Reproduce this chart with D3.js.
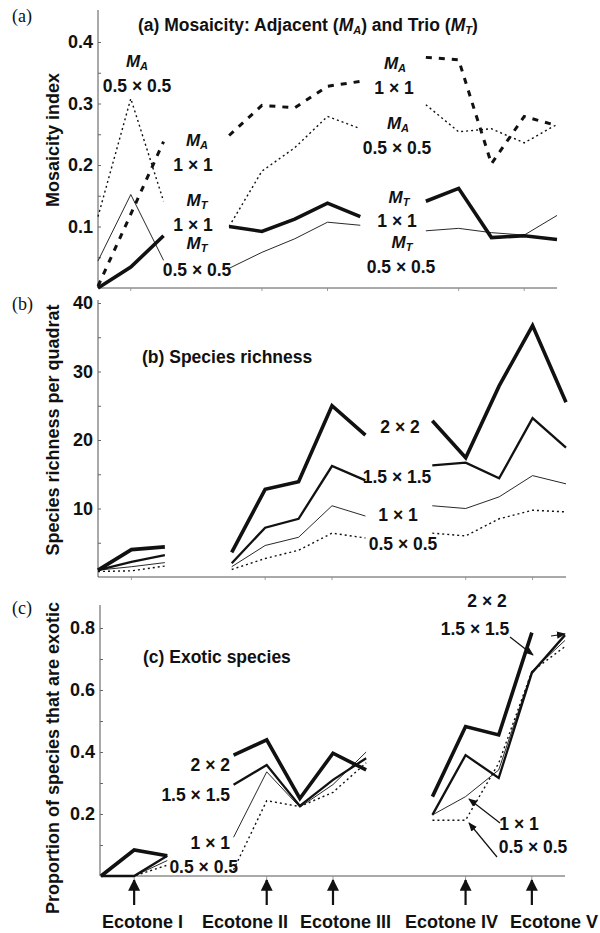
<!DOCTYPE html>
<html>
<head>
<meta charset="utf-8">
<script src="https://cdn.jsdelivr.net/npm/d3@7"></script>
<style>
body { margin: 0; background: #fff; }
svg text { font-family: "Liberation Sans", Arial, Helvetica, sans-serif; font-weight: bold; fill: #111; }
svg text.letter { font-family: "Liberation Serif", "Times New Roman", serif; font-weight: normal; }
</style>
</head>
<body>
<div id="vis"></div>
<script>
'use strict';
var width = 600, height = 933;

// sampling positions along the transect (0..14), null = not sampled
var positions = d3.range(15);

// (a) mosaicity index
var maHalf = [0.116, 0.308, 0.141, null, 0.100, 0.190, 0.228, 0.279, 0.259, null, 0.298, 0.254, 0.259, 0.236, 0.266];
var maOne  = [0.003, 0.120, 0.238, null, 0.248, 0.297, 0.293, 0.328, 0.336, null, 0.375, 0.371, 0.202, 0.279, 0.264];
var mtOne  = [0.000, 0.034, 0.085, null, 0.100, 0.092, 0.112, 0.138, 0.116, null, 0.141, 0.162, 0.082, 0.085, 0.079];
var mtHalf = [0.044, 0.152, 0.045, null, 0.032, 0.058, 0.080, 0.107, 0.102, null, 0.093, 0.097, 0.090, 0.086, 0.118];

// (b) species richness per quadrat
var rich2   = [1.0, 4.0, 4.4, null, 3.6, 12.8, 13.9, 25.0, 20.7, null, 22.8, 17.4, 27.9, 36.7, 25.5];
var rich15  = [1.0, 2.2, 3.2, null, 2.0, 7.2, 8.5, 16.2, 14.1, null, 16.3, 16.7, 14.4, 23.2, 18.9];
var rich1   = [1.0, 1.5, 2.1, null, 1.5, 4.6, 5.8, 10.4, 8.9, null, 10.4, 10.0, 11.7, 14.8, 13.6];
var rich05  = [0.8, 0.9, 1.6, null, 1.1, 2.7, 3.9, 6.4, 5.7, null, 6.4, 6.0, 8.5, 9.75, 9.5];

// (c) proportion exotic
var exo2   = [0, 0.084, 0.065, null, 0.390, 0.439, 0.250, 0.396, 0.342, null, 0.256, 0.482, 0.455, 0.785, null];
var exo15  = [0, 0, 0.065, null, 0.294, 0.358, 0.226, 0.310, 0.380, null, 0.197, 0.390, 0.316, 0.655, 0.777];
var exo1   = [0, 0, 0.050, null, 0.125, 0.336, 0.222, 0.295, 0.400, null, 0.197, 0.256, 0.342, 0.660, 0.760];
var exo05  = [0, 0, 0.035, null, 0.020, 0.243, 0.224, 0.270, 0.365, null, 0.180, 0.180, 0.364, 0.660, 0.740];

var ticksA = [0.1, 0.2, 0.3, 0.4], minorA = [0.05, 0.15, 0.25, 0.35];
var ticksB = [10, 20, 30, 40],     minorB = [5, 15, 25, 35];
var ticksC = [0.2, 0.4, 0.6, 0.8], minorC = [0.1, 0.3, 0.5, 0.7];

var ecotoneIdx = [1, 5, 7, 11, 13];
var ecotoneNames = ['Ecotone I', 'Ecotone II', 'Ecotone III', 'Ecotone IV', 'Ecotone V'];

var svg = d3.select('#vis').append('svg')
  .attr('width', width).attr('height', height);

var defs = svg.append('defs');
defs.append('marker').attr('id', 'head').attr('viewBox', '0 0 10 10')
  .attr('refX', 9).attr('refY', 5).attr('markerWidth', 9).attr('markerHeight', 9)
  .attr('markerUnits', 'userSpaceOnUse').attr('orient', 'auto')
  .append('path').attr('d', 'M0,1 L10,5 L0,9 Z').attr('fill', '#111');
defs.append('marker').attr('id', 'bighead').attr('viewBox', '0 0 10 10')
  .attr('refX', 9).attr('refY', 5).attr('markerWidth', 12).attr('markerHeight', 12)
  .attr('markerUnits', 'userSpaceOnUse').attr('orient', 'auto')
  .append('path').attr('d', 'M0,0 L10,5 L0,10 Z').attr('fill', '#111');

var styles = {
  thick:  { w: 3.6, dash: null },
  medium: { w: 2.3, dash: null },
  thin:   { w: 0.9, dash: null },
  dotted: { w: 1.4, dash: '2,3' },
  dashed: { w: 3.0, dash: '6,7' }
};

var panels = [
  { letter: '(a)', letterY: 22,
    xr: [98, 557], axisX: 98, base: 288, top: 10, domain: [0, 0.4], range: [288, 42],
    ticks: ticksA, minor: minorA, fmt: d3.format('.1f'),
    ytitle: 'Mosaicity index', ytitleY: 140,
    series: [[maHalf, 'dotted'], [maOne, 'dashed'], [mtHalf, 'thin'], [mtOne, 'thick']] },
  { letter: '(b)', letterY: 310, title: '(b) Species richness', titleX: 142, titleY: 363,
    xr: [98, 566], axisX: 98, base: 577, top: 300, domain: [0, 40], range: [577, 303],
    ticks: ticksB, minor: minorB, fmt: d3.format('d'),
    ytitle: 'Species richness per quadrat', ytitleY: 430,
    series: [[rich05, 'dotted'], [rich1, 'thin'], [rich15, 'medium'], [rich2, 'thick']] },
  { letter: '(c)', letterY: 614, title: '(c) Exotic species', titleX: 143, titleY: 663,
    xr: [101, 565], axisX: 100, base: 876, top: 605, domain: [0, 0.8], range: [876, 628],
    ticks: ticksC, minor: minorC, fmt: d3.format('.1f'),
    ytitle: 'Proportion of species that are exotic', ytitleY: 758,
    series: [[exo05, 'dotted'], [exo1, 'thin'], [exo15, 'medium'], [exo2, 'thick']] }
];

panels.forEach(function(p) {
  var x = d3.scaleLinear().domain([0, 14]).range(p.xr);
  var y = d3.scaleLinear().domain(p.domain).range(p.range);
  p.x = x; p.y = y;
  var g = svg.append('g');

  // left axis line and base line
  g.append('line').attr('x1', p.axisX).attr('x2', p.axisX).attr('y1', p.top).attr('y2', p.base)
    .attr('stroke', '#555').attr('stroke-width', 1);
  g.append('line').attr('x1', p.axisX).attr('x2', p.xr[1]).attr('y1', p.base).attr('y2', p.base)
    .attr('stroke', '#555').attr('stroke-width', 1);
  ecotoneIdx.forEach(function(i) {
    g.append('line').attr('x1', x(i)).attr('x2', x(i)).attr('y1', p.base).attr('y2', p.base + 3)
      .attr('stroke', '#888').attr('stroke-width', 0.8);
  });

  // tick labels
  var ax = g.append('g').attr('transform', 'translate(' + p.axisX + ',0)')
    .call(d3.axisLeft(y).tickValues(p.ticks).tickSize(0).tickPadding(5).tickFormat(p.fmt));
  ax.select('.domain').remove();
  ax.selectAll('text').attr('font-size', 18).style('font-family', null);
  // small inward ticks
  var mt = g.append('g').attr('transform', 'translate(' + p.axisX + ',0)')
    .call(d3.axisLeft(y).tickValues(p.ticks.concat(p.minor)).tickSize(-3).tickFormat(''));
  mt.select('.domain').remove();
  mt.selectAll('line').attr('stroke', '#666');

  // y title
  g.append('text').attr('transform', 'translate(59,' + p.ytitleY + ') rotate(-90)')
    .attr('text-anchor', 'middle').attr('font-size', 18).text(p.ytitle);

  // panel letter
  svg.append('text').attr('class', 'letter').attr('x', 12).attr('y', p.letterY)
    .attr('font-size', 18).text(p.letter);

  // series
  var line = d3.line()
    .defined(function(d) { return d.v != null; })
    .x(function(d) { return x(d.i); })
    .y(function(d) { return y(d.v); });
  p.series.forEach(function(s) {
    var st = styles[s[1]];
    var pts = positions.map(function(i) { return { i: i, v: s[0][i] }; });
    g.append('path').attr('d', line(pts))
      .attr('fill', 'none').attr('stroke', '#111')
      .attr('stroke-width', st.w)
      .attr('stroke-dasharray', st.dash)
      .attr('stroke-linejoin', 'miter');
  });
});

// titles
var ta = svg.append('text').attr('x', 138).attr('y', 31).attr('font-size', 17.5);
ta.append('tspan').text('(a) Mosaicity: Adjacent (');
ta.append('tspan').style('font-style', 'italic').text('M');
ta.append('tspan').style('font-style', 'italic').attr('font-size', 11).attr('dy', 3).text('A');
ta.append('tspan').attr('dy', -3).text(') and Trio (');
ta.append('tspan').style('font-style', 'italic').text('M');
ta.append('tspan').style('font-style', 'italic').attr('font-size', 11).attr('dy', 3).text('T');
ta.append('tspan').attr('dy', -3).text(')');
svg.append('text').attr('x', panels[1].titleX).attr('y', panels[1].titleY).attr('font-size', 17.5).text(panels[1].title);
svg.append('text').attr('x', panels[2].titleX).attr('y', panels[2].titleY).attr('font-size', 17.5).text(panels[2].title);

// series labels
function mLabel(x, y, sub) {
  var t = svg.append('text').attr('x', x).attr('y', y).attr('text-anchor', 'middle')
    .attr('font-size', 17).style('font-style', 'italic');
  t.append('tspan').text('M');
  t.append('tspan').attr('font-size', 11).attr('dy', 3).text(sub);
}
function label(x, y, s, anchor) {
  svg.append('text').attr('x', x).attr('y', y).attr('text-anchor', anchor || 'middle')
    .attr('font-size', 17.5).text(s);
}

var mLabels = [[137, 67, 'A'], [197, 146, 'A'], [197, 206, 'T'], [197, 249, 'T'],
               [395, 69, 'A'], [398, 129, 'A'], [399, 203, 'T'], [402, 248, 'T']];
var sizeLabels = [
  [137, 92, '0.5 × 0.5'], [193, 171, '1 × 1'], [193, 231, '1 × 1'], [197, 276, '0.5 × 0.5'],
  [394, 94, '1 × 1'], [397, 154, '0.5 × 0.5'], [397, 227, '1 × 1'], [401, 273, '0.5 × 0.5'],
  [400, 433, '2 × 2'], [397, 483, '1.5 × 1.5'], [398, 521, '1 × 1'], [403, 550, '0.5 × 0.5'],
  [230, 771, '2 × 2', 'end'], [230, 801, '1.5 × 1.5', 'end'], [230, 849, '1 × 1', 'end'], [238, 873, '0.5 × 0.5', 'end'],
  [487, 607, '2 × 2'], [475, 635, '1.5 × 1.5'], [519, 830, '1 × 1'], [533, 853, '0.5 × 0.5']
];
mLabels.forEach(function(d) { mLabel(d[0], d[1], d[2]); });
sizeLabels.forEach(function(d) { label(d[0], d[1], d[2], d[3]); });

// leader arrows in panel (c)
var leaders = [[[510, 637], [533, 655]], [[500, 823], [469, 799]], [[497, 857], [469, 823]], [[551, 636], [565, 634]]];
leaders.forEach(function(l) {
  svg.append('line').attr('x1', l[0][0]).attr('y1', l[0][1]).attr('x2', l[1][0]).attr('y2', l[1][1])
    .attr('stroke', '#111').attr('stroke-width', 1.2).attr('marker-end', 'url(#head)');
});

// ecotone arrows and names
var xc = panels[2].x;
var ecotoneTextX = [102, 202, 300, 405, 510];
ecotoneIdx.forEach(function(i, k) {
  svg.append('line').attr('x1', xc(i)).attr('x2', xc(i)).attr('y1', 905).attr('y2', 880)
    .attr('stroke', '#111').attr('stroke-width', 2.2).attr('marker-end', 'url(#bighead)');
  svg.append('text').attr('x', ecotoneTextX[k]).attr('y', 928).attr('font-size', 18).text(ecotoneNames[k]);
});
</script>
</body>
</html>
